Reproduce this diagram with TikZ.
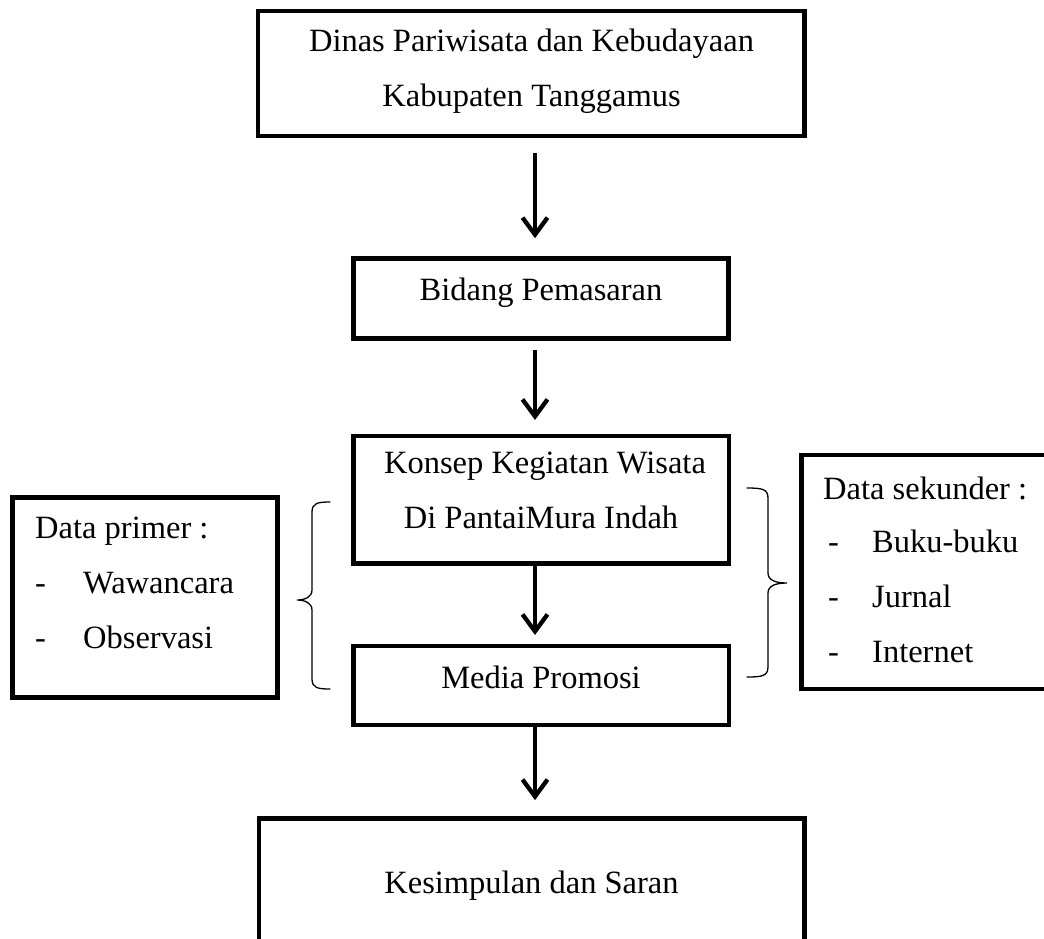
\documentclass[tikz,border=0pt]{standalone}
\usepackage{fontspec}
\setmainfont{Liberation Serif}
\usetikzlibrary{arrows.meta,calc}
\begin{document}
\begin{tikzpicture}[x=1pt,y=-1pt,
  box/.style={draw, line width=4.5pt, rectangle, inner sep=0pt},
  txt/.style={inner sep=0pt, anchor=base, font=\fontsize{32.5}{38}\selectfont},
  txtw/.style={txt, anchor=base west},
  arr/.style={line width=4.3pt, -{Straight Barb[length=17pt,width=25pt]}},
  bracestyle/.style={line width=1.3pt, line cap=round}]
\clip (0,0) rectangle (1044,938);
\fill[white] (0,0) rectangle (1044,938);
% boxes
\node[box, minimum width=546.5pt, minimum height=125pt] (dinas) at (531.25,73.5) {};
\node[box, minimum width=375pt, minimum height=79.8pt] (bidang) at (541,298.4) {};
\node[box, minimum width=375.5pt, minimum height=127.3pt] (konsep) at (541.25,499.65) {};
\node[box, minimum width=375.5pt, minimum height=79pt] (media) at (541.25,685.5) {};
\node[box, minimum width=545.5pt, minimum height=131.6pt] (simpul) at (531.75,884.2) {};
\node[box, minimum width=265pt, minimum height=200pt] (primer) at (145,597.5) {};
\node[box, minimum width=258.3pt, minimum height=234pt] (sekunder) at (930.85,572) {};
% texts
\node[txt] (t1a) at (531.5,51) {Dinas Pariwisata dan Kebudayaan};
\node[txt] (t1b) at (531.5,106) {Kabupaten Tanggamus};
\node[txt] (t2) at (541,300) {Bidang Pemasaran};
\node[txt] (t3a) at (545,473) {Konsep Kegiatan Wisata};
\node[txt] (t3b) at (541,528) {Di PantaiMura Indah};
\node[txt] (t4) at (541,688) {Media Promosi};
\node[txt] (t5) at (531.5,893) {Kesimpulan dan Saran};
\node[txtw] (p0) at (35,538) {Data primer :};
\node[txtw] (p1d) at (35,593) {-};
\node[txtw] (p1) at (83,593) {Wawancara};
\node[txtw] (p2d) at (35,648) {-};
\node[txtw] (p2) at (83,648) {Observasi};
\node[txtw] (s0) at (823,499) {Data sekunder :};
\node[txtw] (s1d) at (828,552) {-};
\node[txtw] (s1) at (872,552) {Buku-buku};
\node[txtw] (s2d) at (828,607) {-};
\node[txtw] (s2) at (872,607) {Jurnal};
\node[txtw] (s3d) at (828,662) {-};
\node[txtw] (s3) at (872,662) {Internet};
% arrows
\coordinate (ax) at (535,0);
\draw[arr, shorten <=14.5pt, shorten >=18pt] (dinas.south -| ax) -- (bidang.north -| ax);
\draw[arr, shorten <=9.5pt, shorten >=13.75pt] (bidang.south -| ax) -- (konsep.north -| ax);
\draw[arr, shorten >=8.75pt] (konsep.south -| ax) -- (media.north -| ax);
\draw[arr, shorten >=16pt] (media.south -| ax) -- (simpul.north -| ax);
% braces
\coordinate (lbt) at (330,502);
\coordinate (lbb) at (330,689);
\coordinate (lbtip) at (297,600);
\draw[bracestyle] (lbt) .. controls (318,502) and (312,503) .. (312,512)
  -- (312,590) .. controls (312,597) and (305,600) .. (lbtip)
  .. controls (305,600) and (312,603) .. (312,610)
  -- (312,679) .. controls (312,688) and (318,689) .. (lbb);
\coordinate (rbt) at (747,488);
\coordinate (rbb) at (747,677);
\coordinate (rbtip) at (787,583);
\draw[bracestyle] (rbt) .. controls (762,488) and (768,489) .. (768,498)
  -- (768,573) .. controls (768,580) and (775,583) .. (rbtip)
  .. controls (775,583) and (768,586) .. (768,593)
  -- (768,667) .. controls (768,676) and (762,677) .. (rbb);
\end{tikzpicture}
\end{document}
